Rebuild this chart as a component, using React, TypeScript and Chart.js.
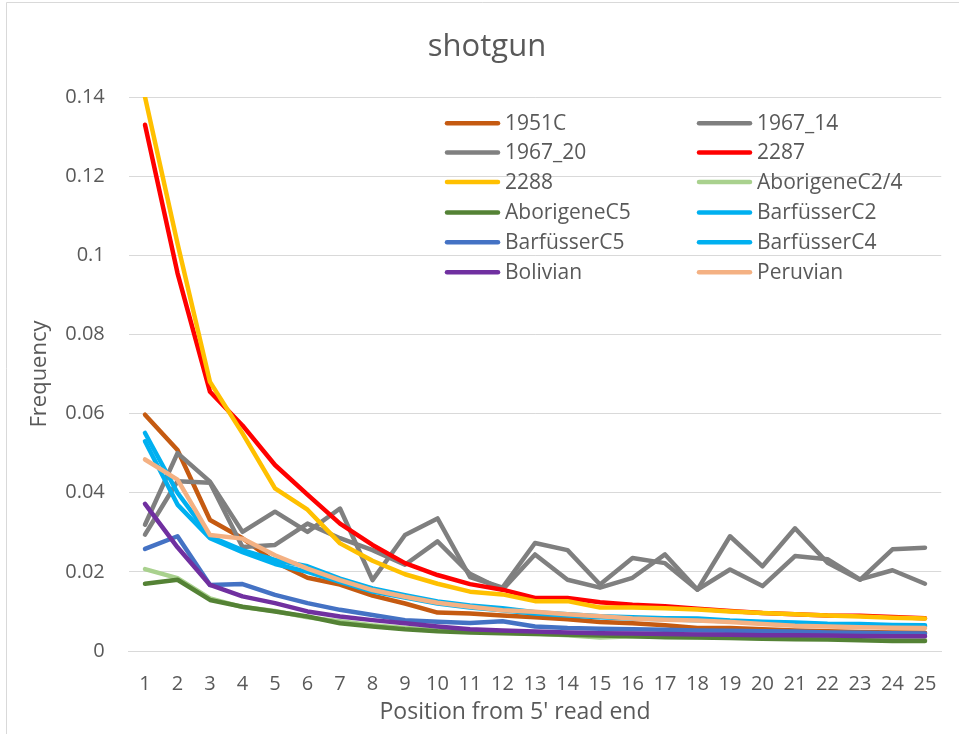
import React, { useEffect, useRef } from "react";
import { Chart, registerables } from "chart.js";

Chart.register(...registerables);

const categories = ["1", "2", "3", "4", "5", "6", "7", "8", "9", "10", "11", "12", "13", "14", "15", "16", "17", "18", "19", "20", "21", "22", "23", "24", "25"];

const yTicks = [0, 0.02, 0.04, 0.06, 0.08, 0.1, 0.12, 0.14];

const s1951C = [0.0597, 0.0508, 0.0331, 0.0285, 0.0225, 0.0185, 0.0168, 0.014, 0.012, 0.0097, 0.0095, 0.009, 0.0085, 0.008, 0.0073, 0.007, 0.0065, 0.0058, 0.0058, 0.0055, 0.0052, 0.005, 0.0048, 0.0047, 0.0046];
const s1967_14 = [0.0319, 0.05, 0.0428, 0.0301, 0.0352, 0.0301, 0.036, 0.0179, 0.0293, 0.0335, 0.0187, 0.016, 0.0273, 0.0255, 0.0168, 0.0235, 0.0222, 0.0155, 0.029, 0.0214, 0.031, 0.0223, 0.018, 0.0257, 0.0261];
const s1967_20 = [0.0294, 0.0429, 0.0425, 0.0263, 0.0268, 0.0322, 0.0285, 0.0255, 0.0218, 0.0277, 0.0195, 0.0155, 0.0244, 0.018, 0.016, 0.0185, 0.0244, 0.0155, 0.0206, 0.0164, 0.024, 0.0232, 0.0181, 0.0204, 0.017];
const s2287 = [0.133, 0.0955, 0.0655, 0.057, 0.047, 0.0395, 0.0322, 0.0268, 0.0222, 0.0192, 0.0169, 0.0155, 0.0134, 0.0134, 0.0123, 0.0117, 0.0113, 0.0107, 0.0101, 0.0096, 0.0093, 0.009, 0.0089, 0.0086, 0.0083];
const s2288 = [0.14, 0.103, 0.068, 0.055, 0.0411, 0.0357, 0.0272, 0.0228, 0.0194, 0.017, 0.015, 0.0143, 0.0126, 0.0126, 0.011, 0.011, 0.0108, 0.0105, 0.01, 0.0096, 0.0093, 0.009, 0.0087, 0.0084, 0.0082];
const sAborigeneC24 = [0.0207, 0.0184, 0.0133, 0.0111, 0.0101, 0.0085, 0.0075, 0.0065, 0.0058, 0.0053, 0.005, 0.0047, 0.0044, 0.004, 0.0034, 0.0037, 0.0036, 0.0035, 0.0034, 0.0033, 0.0032, 0.0031, 0.003, 0.0029, 0.0028];
const sAborigeneC5 = [0.017, 0.018, 0.0129, 0.0112, 0.01, 0.0087, 0.007, 0.0062, 0.0055, 0.005, 0.0047, 0.0045, 0.0043, 0.0041, 0.0039, 0.0037, 0.0035, 0.0034, 0.0033, 0.0031, 0.003, 0.0029, 0.0027, 0.0025, 0.0025];
const sBarfusserC2 = [0.0551, 0.04, 0.0289, 0.0255, 0.023, 0.0214, 0.0183, 0.0158, 0.0141, 0.0125, 0.0115, 0.0108, 0.0098, 0.0093, 0.0088, 0.0085, 0.0083, 0.0082, 0.0077, 0.0074, 0.0072, 0.0069, 0.0068, 0.0066, 0.0065];
const sBarfusserC5 = [0.0258, 0.029, 0.0167, 0.0169, 0.0142, 0.0121, 0.0104, 0.0091, 0.0078, 0.0074, 0.0071, 0.0075, 0.0062, 0.0058, 0.0056, 0.0055, 0.0054, 0.0052, 0.0051, 0.005, 0.0049, 0.0047, 0.0046, 0.0045, 0.0044];
const sBarfusserC4 = [0.053, 0.037, 0.0285, 0.025, 0.022, 0.02, 0.0175, 0.015, 0.0135, 0.012, 0.011, 0.0103, 0.0095, 0.009, 0.0085, 0.0082, 0.008, 0.0078, 0.0075, 0.0072, 0.007, 0.0067, 0.0066, 0.0064, 0.0062];
const sBolivian = [0.0372, 0.0262, 0.0167, 0.0138, 0.0121, 0.01, 0.0087, 0.0078, 0.007, 0.0062, 0.0055, 0.0052, 0.0049, 0.0047, 0.0045, 0.0044, 0.0043, 0.0042, 0.0041, 0.004, 0.004, 0.0039, 0.0038, 0.0037, 0.0037];
const sPeruvian = [0.0484, 0.0433, 0.0293, 0.0284, 0.0242, 0.0208, 0.0179, 0.0154, 0.0137, 0.0122, 0.0112, 0.0103, 0.0099, 0.0093, 0.0088, 0.0082, 0.0079, 0.0077, 0.0073, 0.0068, 0.0064, 0.0062, 0.006, 0.0059, 0.0058];

const seriesNames = ["1951C", "1967_14", "1967_20", "2287", "2288", "AborigeneC2/4", "AborigeneC5", "BarfüsserC2", "BarfüsserC5", "BarfüsserC4", "Bolivian", "Peruvian"];
const seriesValues = [s1951C, s1967_14, s1967_20, s2287, s2288, sAborigeneC24, sAborigeneC5, sBarfusserC2, sBarfusserC5, sBarfusserC4, sBolivian, sPeruvian];
const seriesColors = ["#C55A11", "#7F7F7F", "#808080", "#FF0000", "#FFC000", "#A9D18E", "#548235", "#00B0F0", "#4472C4", "#00B0F0", "#7030A0", "#F4B183"];

const chartTitle = "shotgun";
const xTitle = "Position from 5' read end";
const yTitle = "Frequency";

const FONT = "'Open Sans', sans-serif";
const TEXT = "#595959";
const GRID = "#D9D9D9";

const framePlugin = {
  id: "frame",
  beforeDraw(chart: any) {
    const ctx = chart.ctx;
    ctx.save();
    ctx.fillStyle = "#FFFFFF";
    ctx.fillRect(0, 0, chart.width, chart.height);
    ctx.strokeStyle = GRID;
    ctx.lineWidth = 1;
    ctx.beginPath();
    ctx.moveTo(6.5, chart.height);
    ctx.lineTo(6.5, 2.5);
    ctx.lineTo(chart.width, 2.5);
    ctx.stroke();
    ctx.fillStyle = TEXT;
    ctx.font = `31px ${FONT}`;
    ctx.textAlign = "center";
    ctx.textBaseline = "alphabetic";
    ctx.fillText(chartTitle, 487, 56);
    ctx.font = `23px ${FONT}`;
    ctx.textBaseline = "middle";
    ctx.fillText(xTitle, 515, 712);
    ctx.restore();
  },
};

const legendPlugin = {
  id: "insideLegend",
  afterDatasetsDraw(chart: any) {
    const ctx = chart.ctx;
    const colX = [447, 699];
    const rowY = [123.3, 152.5, 182, 212.5, 242.3, 272.3];
    ctx.save();
    chart.data.datasets.forEach((ds: any, i: number) => {
      const col = i % 2;
      const row = Math.floor(i / 2);
      const x = colX[col];
      const y = rowY[row];
      ctx.strokeStyle = ds.borderColor;
      ctx.lineWidth = 4.5;
      ctx.lineCap = "round";
      ctx.beginPath();
      ctx.moveTo(x, y);
      ctx.lineTo(x + 51, y);
      ctx.stroke();
      ctx.fillStyle = TEXT;
      ctx.font = `21px ${FONT}`;
      ctx.textAlign = "left";
      ctx.textBaseline = "middle";
      ctx.fillText(ds.label, x + 58, y + 1);
    });
    ctx.restore();
  },
};

export default function App() {
  const canvasRef = useRef<HTMLCanvasElement | null>(null);

  useEffect(() => {
    document.body.style.margin = "0";
    const canvas = canvasRef.current;
    if (!canvas) return;
    const n = seriesNames.length;
    const chart = new Chart(canvas, {
      type: "line",
      data: {
        labels: categories,
        datasets: seriesNames.map((name, i) => ({
          label: name,
          data: seriesValues[i],
          borderColor: seriesColors[i],
          backgroundColor: seriesColors[i],
          borderWidth: 4.5,
          pointRadius: 0,
          tension: 0,
          fill: false,
          borderCapStyle: "round",
          borderJoinStyle: "round",
          order: n - 1 - i,
        })),
      },
      options: {
        animation: false,
        responsive: false,
        maintainAspectRatio: false,
        layout: { padding: { top: 97, right: 17.75, left: 0, bottom: 0 } },
        plugins: {
          legend: { display: false },
          title: { display: false },
          tooltip: { enabled: false },
        },
        scales: {
          x: {
            type: "category",
            offset: true,
            grid: { display: false, drawTicks: false },
            border: { display: true, color: GRID, width: 1 },
            ticks: {
              color: TEXT,
              font: { family: FONT, size: 20 },
              padding: 21,
              maxRotation: 0,
              autoSkip: false,
            },
            title: { display: false },
            afterFit: (scale: any) => {
              scale.height = 83;
            },
          },
          y: {
            min: 0,
            max: 0.14,
            grid: { color: GRID, lineWidth: 1, drawTicks: false },
            border: { display: false },
            afterBuildTicks: (scale: any) => {
              scale.ticks = yTicks.map((v) => ({ value: v }));
            },
            ticks: {
              color: TEXT,
              font: { family: FONT, size: 20 },
              padding: 24,
              callback: (v: any) => String(Number(Number(v).toFixed(2))),
            },
            title: {
              display: true,
              text: yTitle,
              color: TEXT,
              font: { family: FONT, size: 22 },
              padding: { top: 27, bottom: 0 },
            },
            afterFit: (scale: any) => {
              scale.width = 128.75;
            },
          },
        },
      },
      plugins: [framePlugin, legendPlugin],
    });
    return () => chart.destroy();
  }, []);

  return (
    <div style={{ width: 959, height: 734 }}>
      <canvas ref={canvasRef} width={959} height={734} style={{ display: "block", width: 959, height: 734 }} />
    </div>
  );
}
